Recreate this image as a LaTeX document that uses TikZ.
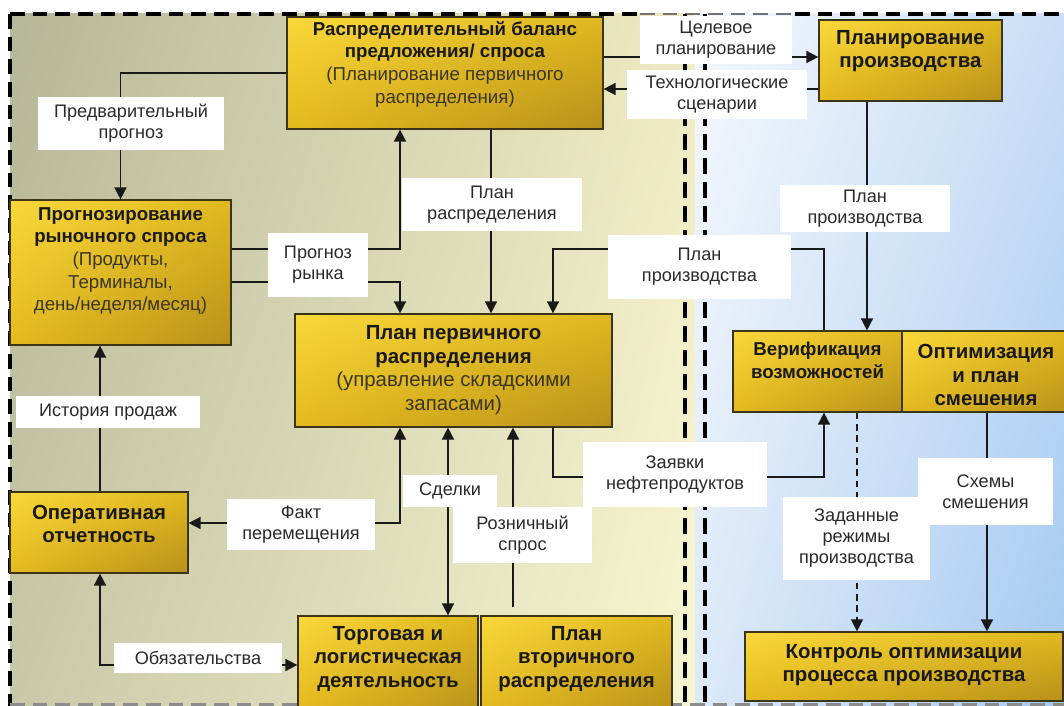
\documentclass[tikz,border=0pt]{standalone}
\usepackage{fontspec}
\setmainfont{Liberation Sans}
\usetikzlibrary{arrows.meta,shadings}
\definecolor{boxline}{HTML}{3C3418}
\definecolor{gul}{HTML}{F9D83A}
\definecolor{gur}{HTML}{E0B820}
\definecolor{gll}{HTML}{E4BA1E}
\definecolor{glr}{HTML}{B8911A}
\definecolor{labtext}{HTML}{2A2A2A}
\definecolor{subtext}{HTML}{3A3520}
\definecolor{kul}{RGB}{182,182,152}
\definecolor{kur}{RGB}{238,235,195}
\definecolor{kll}{RGB}{201,200,168}
\definecolor{klr}{RGB}{248,246,210}
\definecolor{bul}{RGB}{245,248,252}
\definecolor{bur}{RGB}{200,222,246}
\definecolor{bll}{RGB}{220,233,248}
\definecolor{blr}{RGB}{165,201,242}
\begin{document}
\begin{tikzpicture}[x=0.75pt,y=-0.75pt,
  >={Triangle[length=9pt,width=9pt]},
  wh/.style 2 args={minimum width=#1*0.75pt, minimum height=#2*0.75pt},
  box/.style={draw=boxline, line width=0.9pt, shade, upper left=gul, upper right=gur, lower left=gll, lower right=glr, inner sep=0pt},
  btxt/.style={align=center, font=\bfseries\fontsize{14}{17}\selectfont, text=black!90, inner sep=0pt},
  bigtxt/.style={align=center, font=\bfseries\fontsize{15.3}{17.6}\selectfont, text=black!90, inner sep=0pt},
  lab/.style={fill=white, align=center, font=\fontsize{13.6}{15.75}\selectfont, text=labtext, inner sep=0pt},
  conn/.style={draw=black!90, line width=1.2pt, ->},
  conn2/.style={draw=black!90, line width=1.2pt, <->},
  frame/.style={draw=black, line width=2.6pt, dash pattern=on 11pt off 6pt},
  framethin/.style={draw=black!55, line width=1.5pt, dash pattern=on 11pt off 6pt},
  vframe/.style={draw=black, line width=2.4pt, dash pattern=on 12pt off 6pt},
]
\useasboundingbox (0,0) rectangle (1064,706);
\clip (0,0) rectangle (1064,706);
% backgrounds
\shade[upper left=kul, upper right=kur, lower left=kll, lower right=klr] (10,14) rectangle (695,706);
\shade[upper left=bul, upper right=bur, lower left=bll, lower right=blr] (695,14) rectangle (1064,706);
% frames
\draw[frame] (10,14) -- (640,14);
\draw[framethin] (640,14) -- (795,14);
\draw[frame] (795,14) -- (1070,14);
\draw[frame] (10,14) -- (10,710);
\draw[draw=black!45, line width=2.4pt, dash pattern=on 11pt off 6pt] (10,705) -- (1070,705);
\draw[vframe] (685,14) -- (685,710);
\draw[vframe] (705,14) -- (705,710);

% boxes
\node[box, wh={316}{112}] (rb) at (445,73) {};
\node[box, wh={183}{81}] (pp) at (910.5,60.5) {};
\node[box, wh={221}{145}] (fc) at (120.5,272.5) {};
\node[box, wh={317}{113}] (ppr) at (453.5,370.5) {};
\node[box, wh={169}{81}] (ver) at (817.5,371.5) {};
\node[box, wh={168}{81}] (opt) at (986,371.5) {};
\node[box, wh={178}{81}] (op) at (99,532.5) {};
\node[box, wh={180}{96}] (tr) at (388,664) {};
\node[box, wh={191}{96}] (sec) at (576.5,664) {};
\node[box, wh={318}{69}] (ctl) at (904,666.5) {};
\coordinate (rsend) at (513,607);

% connectors
\draw[conn] (rb.west) -| (fc.north);
\draw[conn] (fc.east |- 0,249) -| (400,0 |- rb.south);
\draw[conn] (fc.east |- 0,282) -| (400,0 |- ppr.north);
\draw[conn] (rb.south -| 491,0) -- (ppr.north -| 491,0);
\draw[conn] (ver.north -| 824,0) |- (553,249) -- (553,0 |- ppr.north);
\draw[conn] (pp.south -| 867,0) -- (ver.north -| 867,0);
\draw[conn] (rb.east |- 0,57) -- (pp.west |- 0,57);
\draw[conn] (pp.west |- 0,89) -- (rb.east |- 0,89);
\draw[conn] (ppr.south -| 553,0) |- (824,477) -- (ver.south -| 824,0);
\draw[conn, dash pattern=on 5pt off 3.5pt, line width=1pt] (ver.south -| 857,0) -- (ctl.north -| 857,0);
\draw[conn] (opt.south -| 987,0) -- (ctl.north -| 987,0);
\draw[conn2] (ppr.south -| 448,0) -- (tr.north -| 448,0);
\draw[conn] (rsend) -- (ppr.south -| 513,0);
\draw[conn2] (ppr.south -| 400,0) |- (op.east |- 0,523);
\draw[conn] (op.north -| 100,0) -- (fc.south -| 100,0);
\draw[conn2] (op.south -| 100,0) |- (tr.west |- 0,665);

% labels
\node[lab, wh={186}{53}] (l1) at (131,123.5) {Предварительный\\прогноз};
\node[lab, wh={152}{48}] (l2) at (716,40) {Целевое\\планирование};
\node[lab, wh={180}{49}] (l3) at (717,94.5) {Технологические\\сценарии};
\node[lab, wh={180}{53}] (l4) at (492,204.5) {План\\распределения};
\node[lab, wh={100}{64}] (l5) at (318,265) {Прогноз\\рынка};
\node[lab, wh={183}{64}] (l6) at (699.5,267) {План\\производства};
\node[lab, wh={170}{47}] (l7) at (865,208.5) {План\\производства};
\node[lab, wh={184}{32}] (l8) at (108,412) {История продаж};
\node[lab, wh={148}{51}] (l9) at (301,524.5) {Факт\\перемещения};
\node[lab, wh={94}{32}] (l10) at (450,491) {Сделки};
\node[lab, wh={139}{56}] (l11) at (522.5,535) {Розничный\\спрос};
\node[lab, wh={184}{65}] (l12) at (675,474.5) {Заявки\\нефтепродуктов};
\node[lab, wh={147}{83}] (l13) at (856.5,538.5) {Заданные\\режимы\\производства};
\node[lab, wh={135}{67}] (l14) at (985.5,491.5) {Схемы\\смешения};
\node[lab, wh={168}{30}] (l15) at (198,658) {Обязательства};

% box texts
\node[btxt] (rb-t) at (445,64) {Распределительный баланс\\предложения/ спроса\\{\mdseries\color{subtext}(Планирование первичного}\\{\mdseries\color{subtext}распределения)}};
\node[bigtxt] (pp-t) at (910.5,51) {Планирование\\производства};
\node[btxt] (fc-t) at (120.5,261) {Прогнозирование\\рыночного спроса\\{\mdseries\color{subtext}(Продукты,}\\{\mdseries\color{subtext}Терминалы,}\\{\mdseries\color{subtext}день/неделя/месяц)}};
\node[bigtxt] (ppr-t) at (453.5,370) {План первичного\\распределения\\{\mdseries\color{subtext}(управление складскими}\\{\mdseries\color{subtext}запасами)}};
\node[btxt] (ver-t) at (817.5,360) {Верификация\\возможностей};
\node[bigtxt] (opt-t) at (986,375) {Оптимизация\\и план\\смешения};
\node[bigtxt] (op-t) at (99,524) {Оперативная\\отчетность};
\node[bigtxt] (tr-t) at (388,659) {Торговая и\\логистическая\\деятельность};
\node[bigtxt] (sec-t) at (576.5,659) {План\\вторичного\\распределения};
\node[bigtxt] (ctl-t) at (904,665) {Контроль оптимизации\\процесса производства};
\end{tikzpicture}
\end{document}
